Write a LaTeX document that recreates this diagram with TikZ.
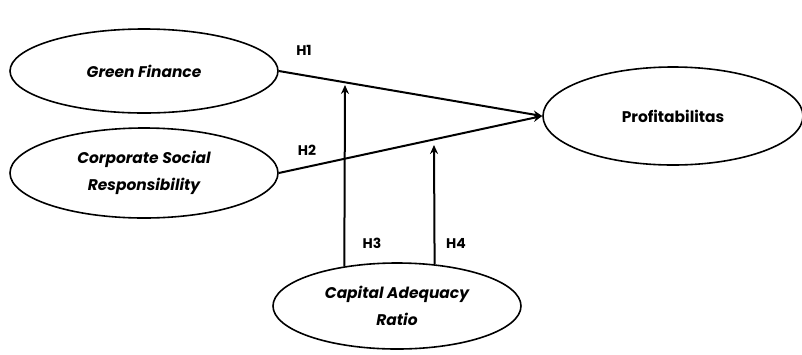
\documentclass[tikz,border=0pt]{standalone}
\usepackage{fontspec}
\setmainfont{Poppins}
\usetikzlibrary{shapes.geometric,arrows.meta}
\begin{document}
\begin{tikzpicture}[x=1bp,y=-1bp,
  lat/.style={draw=black,line width=1.6bp,ellipse,inner sep=0pt,align=center,
    font=\fontsize{15.5}{27}\selectfont\bfseries\itshape},
  hlab/.style={font=\fontsize{14}{16}\selectfont\bfseries,inner sep=0pt},
  path/.style={line width=2bp,-{Stealth[length=9bp,width=8bp]}}]
\useasboundingbox (0,0) rectangle (802,354);
\node[lat,minimum width=268bp,minimum height=84bp] (gf) at (144,71) {Green Finance};
\node[lat,minimum width=268bp,minimum height=90bp] (csr) at (144,173) {Corporate Social\\Responsibility};
\node[lat,minimum width=260bp,minimum height=98bp,font=\fontsize{15.5}{23}\selectfont\bfseries] (prof) at (673,116) {Profitabilitas};
\node[lat,minimum width=248bp,minimum height=86bp] (car) at (397,306) {Capital Adequacy\\Ratio};
\coordinate (m3) at (345,85);
\coordinate (m4) at (434,145);
\draw[path] (gf.east) -- (prof.west);
\draw[path] (csr.east) -- (prof.west);
\draw[path] (car.143) -- (m3);
\draw[path] (car.48) -- (m4);
\node[hlab] (h1) at (304,50) {H1};
\node[hlab] (h2) at (307,150) {H2};
\node[hlab] (h3) at (372,243) {H3};
\node[hlab] (h4) at (456,243) {H4};
\end{tikzpicture}
\end{document}
